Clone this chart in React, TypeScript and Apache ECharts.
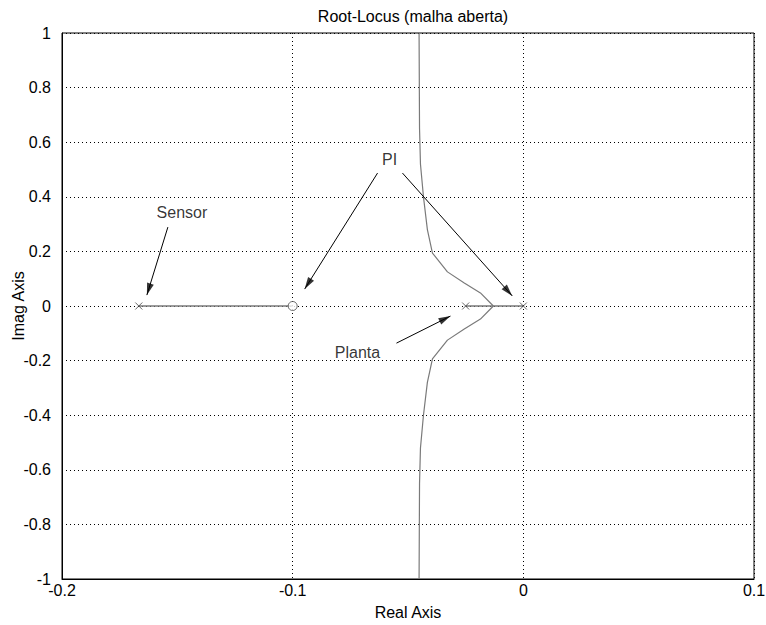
import React, { useEffect, useRef } from "react";
import * as echarts from "echarts";

const TITLE = "Root-Locus (malha aberta)";
const X_NAME = "Real Axis";
const Y_NAME = "Imag Axis";

// Open-loop poles and zero
const poles: [number, number][] = [
  [-0.1667, 0],
  [-0.025, 0],
  [0, 0],
];
const zeros: [number, number][] = [[-0.1, 0]];

// Real-axis locus segments
const realSeg1: [number, number][] = [
  [-0.1667, 0],
  [-0.1, 0],
];
const realSeg2: [number, number][] = [
  [-0.025, 0],
  [-0.013, 0],
  [0, 0],
];

// Complex branches (upper and lower)
const upperBranch: [number, number][] = [
  [-0.013, 0],
  [-0.0186, 0.048],
  [-0.0256, 0.084],
  [-0.0329, 0.125],
  [-0.0394, 0.194],
  [-0.0416, 0.28],
  [-0.0433, 0.4],
  [-0.0446, 0.52],
  [-0.045, 0.65],
  [-0.0452, 1.0],
];
const lowerBranch: [number, number][] = [
  [-0.013, 0],
  [-0.0186, -0.048],
  [-0.0256, -0.084],
  [-0.0329, -0.125],
  [-0.0394, -0.194],
  [-0.0416, -0.28],
  [-0.0433, -0.4],
  [-0.0446, -0.52],
  [-0.045, -0.65],
  [-0.0452, -1.0],
];

// Annotations
const annotTexts: { name: string; value: [number, number] }[] = [
  { name: "Sensor", value: [-0.148, 0.344] },
  { name: "PI", value: [-0.058, 0.535] },
  { name: "Planta", value: [-0.0719, -0.172] },
];
const arrows: [[number, number], [number, number]][] = [
  [[-0.1541, 0.289], [-0.1632, 0.04]],
  [[-0.0632, 0.487], [-0.0948, 0.062]],
  [[-0.0524, 0.487], [-0.0048, 0.037]],
  [[-0.055, -0.136], [-0.0316, -0.037]],
];

const FONT = "Liberation Sans, Arial, sans-serif";
const FS = 16;
const HEAD_LEN = 12;
const HEAD_W = 7;

export default function App() {
  const ref = useRef<HTMLDivElement>(null);
  useEffect(() => {
    if (!ref.current) return;
    const chart = echarts.init(ref.current, null, { renderer: "svg" });
    const dotted = { show: true, lineStyle: { color: "#000", width: 1, type: [1, 3] as any } };
    const locusColor = "#7a7a7a";
    const baseSeries: any[] = [
      {
        type: "line",
        data: realSeg1,
        symbol: "none",
        lineStyle: { color: locusColor, width: 1.5 },
        z: 3,
      },
      {
        type: "line",
        data: realSeg2,
        symbol: "none",
        lineStyle: { color: locusColor, width: 1.5 },
        z: 3,
      },
      {
        type: "line",
        data: upperBranch,
        symbol: "none",
        lineStyle: { color: locusColor, width: 1.2 },
        z: 3,
      },
      {
        type: "line",
        data: lowerBranch,
        symbol: "none",
        lineStyle: { color: locusColor, width: 1.2 },
        z: 3,
      },
      {
        type: "scatter",
        data: poles,
        symbol: "path://M0,0L10,10M10,0L0,10",
        symbolSize: 7,
        itemStyle: { color: "transparent", borderColor: "#444", borderWidth: 1 },
        z: 4,
      },
      {
        type: "scatter",
        data: zeros,
        symbol: "circle",
        symbolSize: 9,
        itemStyle: { color: "#fff", borderColor: "#444", borderWidth: 1 },
        z: 4,
      },
      {
        type: "scatter",
        data: annotTexts,
        symbolSize: 0,
        itemStyle: { color: "transparent" },
        label: {
          show: true,
          position: "inside",
          formatter: (p: any) => p.name,
          fontFamily: FONT,
          fontSize: FS,
          color: "#000",
        },
        z: 5,
      },
      ...arrows.map(([a, b]) => ({
        type: "line",
        data: [a, b],
        symbol: "none",
        lineStyle: { color: "#000", width: 1 },
        z: 5,
      })),
    ];
    chart.setOption({
      animation: false,
      backgroundColor: "#fff",
      textStyle: { fontFamily: FONT },
      title: {
        text: TITLE,
        left: 408,
        top: 3,
        textAlign: "center",
        textStyle: { fontFamily: FONT, fontSize: FS, fontWeight: "normal", color: "#000" },
      },
      grid: {
        left: 62,
        right: 12,
        top: 33,
        bottom: 46,
        containLabel: false,
        outerBoundsMode: "none",
        show: true,
        borderColor: "#000",
        borderWidth: 1,
        backgroundColor: "transparent",
      },
      xAxis: {
        type: "value",
        min: -0.2,
        max: 0.1,
        interval: 0.1,
        name: X_NAME,
        nameLocation: "middle",
        nameGap: 25,
        nameMoveOverlap: false,
        nameTextStyle: { fontFamily: FONT, fontSize: FS, color: "#000" },
        axisLine: { show: true, onZero: false, lineStyle: { color: "#000" } },
        axisTick: { show: false },
        splitLine: dotted,
        axisLabel: {
          fontFamily: FONT,
          fontSize: FS,
          color: "#000",
          margin: 3,
          formatter: (v: number) => String(Math.round(v * 10) / 10),
        },
      },
      yAxis: {
        type: "value",
        min: -1,
        max: 1,
        interval: 0.2,
        name: Y_NAME,
        nameLocation: "middle",
        nameGap: 36,
        nameMoveOverlap: false,
        nameTextStyle: { fontFamily: FONT, fontSize: FS, color: "#000" },
        axisLine: { show: true, onZero: false, lineStyle: { color: "#000" } },
        axisTick: { show: false },
        splitLine: dotted,
        axisLabel: {
          fontFamily: FONT,
          fontSize: FS,
          color: "#000",
          margin: 11,
          formatter: (v: number) => String(Math.round(v * 10) / 10),
        },
      },
      series: baseSeries,
    });

    // Arrowheads: oriented in pixel space via the chart's own coordinate conversion
    const heads = arrows.map(([a, b]) => {
      const p1 = chart.convertToPixel({ gridIndex: 0 }, a) as number[];
      const p2 = chart.convertToPixel({ gridIndex: 0 }, b) as number[];
      const dx = p2[0] - p1[0];
      const dy = p2[1] - p1[1];
      const len = Math.hypot(dx, dy) || 1;
      const ux = dx / len;
      const uy = dy / len;
      const c = [p2[0] - (ux * HEAD_LEN) / 2, p2[1] - (uy * HEAD_LEN) / 2];
      const cd = chart.convertFromPixel({ gridIndex: 0 }, c) as number[];
      const rot = (Math.atan2(-ux, -uy) * 180) / Math.PI;
      return { value: cd, symbolRotate: rot };
    });
    chart.setOption({
      series: [
        ...baseSeries,
        {
          type: "scatter",
          data: heads,
          symbol: "triangle",
          symbolSize: [HEAD_W, HEAD_LEN],
          itemStyle: { color: "#000" },
          z: 6,
        },
      ],
    });
    return () => chart.dispose();
  }, []);
  return (
    <div
      ref={ref}
      style={{ position: "absolute", left: 0, top: 0, width: 766, height: 625 }}
    />
  );
}
